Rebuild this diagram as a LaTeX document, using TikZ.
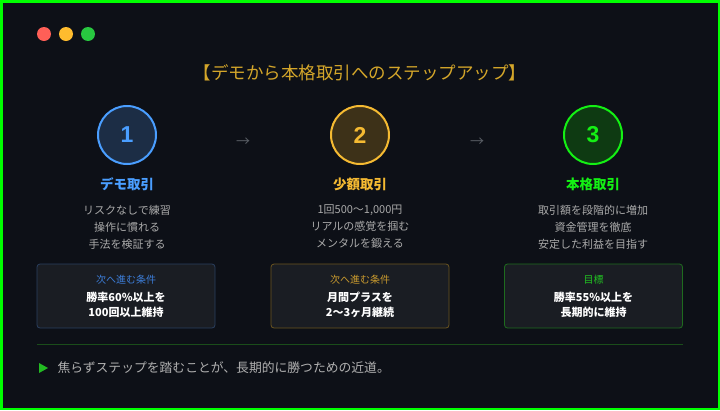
\documentclass[tikz,border=0pt]{standalone}
\usepackage{fontspec}
\setmainfont{Noto Sans CJK JP}
\newfontfamily\numfont{Liberation Sans}
\usepackage{tikz}

\definecolor{bgdark}{HTML}{0D1017}
\definecolor{frame}{HTML}{00FF00}
\definecolor{dotred}{HTML}{FF5F57}
\definecolor{dotyellow}{HTML}{FEBC2E}
\definecolor{dotgreen}{HTML}{28C840}
\definecolor{titlegold}{HTML}{D4A62A}
\definecolor{stepblue}{HTML}{4A9EFF}
\definecolor{stepgold}{HTML}{F5BA32}
\definecolor{stepgreen}{HTML}{14F014}
\definecolor{fillblue}{HTML}{1C2D45}
\definecolor{fillgold}{HTML}{3D3118}
\definecolor{fillgreen}{HTML}{0E3A12}
\definecolor{arrowgray}{HTML}{5A5F66}
\definecolor{descgray}{HTML}{AAAAAA}
\definecolor{notegray}{HTML}{B0B0B0}
\definecolor{boxfill}{HTML}{1A1D23}
\definecolor{edgeblue}{HTML}{2A3F5F}
\definecolor{edgegold}{HTML}{6B5520}
\definecolor{edgegreen}{HTML}{1E6B1E}
\definecolor{labelblue}{HTML}{3C7DD8}
\definecolor{labelgold}{HTML}{C99A2E}
\definecolor{labelgreen}{HTML}{22C022}
\definecolor{rulegreen}{HTML}{1A4D1A}
\definecolor{markgreen}{HTML}{22BB22}

\begin{document}
\begin{tikzpicture}[x=1pt,y=-1pt]
        \useasboundingbox (0,0) rectangle (720,410);
        \fill[bgdark] (0,0) rectangle (720,410);
        \draw[frame,line width=2.5pt] (1.25,1.25) rectangle (718.75,408.75);

        % window buttons
        \begin{scope}[every node/.style={circle,inner sep=0pt,minimum size=14pt}]
            \node (red) [fill=dotred] at (44,34) {};
            \node (yellow) [fill=dotyellow] at (66,34) {};
            \node (green) [fill=dotgreen] at (88,34) {};
        \end{scope}

        \node (title) [text=titlegold,font=\fontsize{17.5}{20}\selectfont] at (360,73) {【デモから本格取引へのステップアップ】};

        % step circles
        \begin{scope}[every node/.style={circle,line width=2pt,draw,minimum size=58pt,inner sep=0pt,font=\numfont\fontsize{23}{25}\selectfont\bfseries}]
            \node (A) [draw=stepblue,fill=fillblue,text=stepblue] at (127,135) {1};
            \node (B) [draw=stepgold,fill=fillgold,text=stepgold] at (360,135) {2};
            \node (C) [draw=stepgreen,fill=fillgreen,text=stepgreen] at (593,135) {3};
        \end{scope}

        \begin{scope}[every node/.style={text=arrowgray,font=\fontsize{14}{16}\selectfont}]
            \node (AB) at (243,142) {→};
            \node (BC) at (477,142) {→};
        \end{scope}

        % headings
        \begin{scope}[every node/.style={font=\fontsize{13.5}{16}\selectfont\bfseries}]
            \node (A1) [text=stepblue] at (127,184) {デモ取引};
            \node (B1) [text=stepgold] at (360,184) {少額取引};
            \node (C1) [text=stepgreen] at (593,184) {本格取引};
        \end{scope}

        % descriptions
        \begin{scope}[every node/.style={text=descgray,align=center,font=\fontsize{11}{17}\selectfont}]
            \node (A2) at (127,227) {リスクなしで練習\\操作に慣れる\\手法を検証する};
            \node (B2) at (360,227) {1回500〜1,000円\\リアルの感覚を掴む\\メンタルを鍛える};
            \node (C2) at (593,227) {取引額を段階的に増加\\資金管理を徹底\\安定した利益を目指す};
        \end{scope}

        % condition boxes
        \begin{scope}[every node/.style={rectangle,rounded corners=3pt,fill=boxfill,line width=0.8pt,draw,minimum width=178pt,minimum height=64pt}]
            \node (A3) [draw=edgeblue] at (126,296) {};
            \node (B3) [draw=edgegold] at (360,296) {};
            \node (C3) [draw=edgegreen] at (593.5,296) {};
        \end{scope}

        \begin{scope}[every node/.style={font=\fontsize{10}{12}\selectfont}]
            \node (A4) [text=labelblue] at (126,280) {次へ進む条件};
            \node (B4) [text=labelgold] at (360,280) {次へ進む条件};
            \node (C4) [text=labelgreen] at (593.5,280) {目標};
        \end{scope}

        \begin{scope}[every node/.style={text=white,align=center,font=\fontsize{11}{15}\selectfont\bfseries}]
            \node (A5) at (126,304.5) {勝率60\%以上を\\100回以上維持};
            \node (B5) at (360,304.5) {月間プラスを\\2〜3ヶ月継続};
            \node (C5) at (593.5,304.5) {勝率55\%以上を\\長期的に維持};
        \end{scope}

        \draw[rulegreen,line width=0.8pt] (37,344) -- (683,344);

        \fill[markgreen] (39,363) -- (48,368) -- (39,373) -- cycle;
        \node (note) [anchor=west,text=notegray,font=\fontsize{12.8}{15}\selectfont] at (54,368) {焦らずステップを踏むことが、長期的に勝つための近道。};
    \end{tikzpicture}
\end{document}
